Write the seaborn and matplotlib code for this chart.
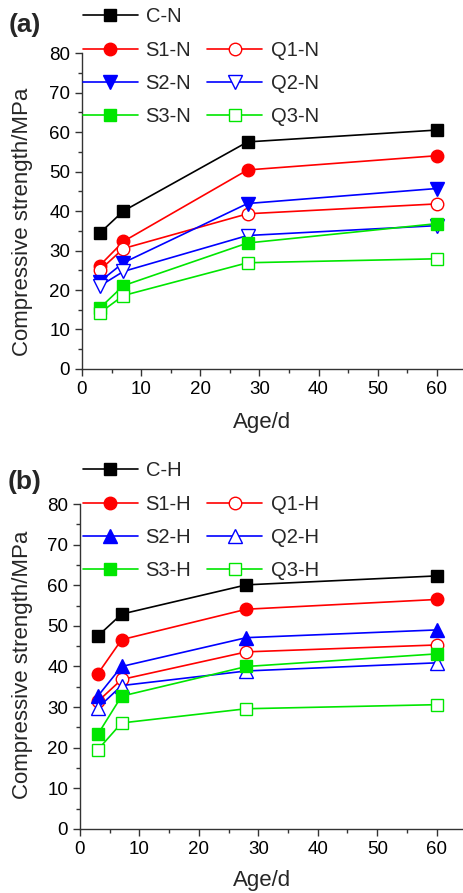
import matplotlib
matplotlib.use('Agg')
import matplotlib.pyplot as plt
from matplotlib.lines import Line2D
from matplotlib.ticker import MultipleLocator
import pandas as pd
import seaborn as sns

# curing age (days)
ages = [3, 7, 28, 60]

# panel (a) - N series, compressive strength in MPa
c_n = [34.4, 40.0, 57.5, 60.5]
s1_n = [26.2, 32.3, 50.4, 54.0]
q1_n = [25.0, 30.5, 39.3, 41.8]
s2_n = [22.1, 26.9, 41.9, 45.7]
q2_n = [21.0, 24.7, 33.8, 36.3]
s3_n = [15.4, 21.1, 31.9, 36.8]
q3_n = [14.2, 18.6, 26.9, 27.9]

# panel (b) - H series
c_h = [47.5, 52.9, 60.1, 62.3]
s1_h = [38.2, 46.6, 54.1, 56.5]
q1_h = [31.4, 36.8, 43.6, 45.3]
s2_h = [32.7, 40.0, 47.1, 49.0]
q2_h = [29.8, 35.3, 38.9, 40.9]
s3_h = [23.3, 32.7, 40.0, 43.1]
q3_h = [19.5, 26.1, 29.6, 30.6]

BLACK, RED, BLUE, GREEN = 'black', '#ff0000', '#0000ff', '#00e600'

sns.set_style('ticks')
plt.rcParams['font.family'] = ['Liberation Sans', 'DejaVu Sans']
plt.rcParams['xtick.direction'] = 'out'
plt.rcParams['ytick.direction'] = 'out'


def draw_panel(ax, series, tag, legend_top, tag_y, xlab_pos, ylab_pos):
    # series: list of (name, values, color, marker, filled, size)
    for name, vals, color, marker, filled, ms in series:
        df = pd.DataFrame({'age': ages, 'val': vals})
        sns.lineplot(data=df, x='age', y='val', ax=ax, color=color, marker=marker,
                     markersize=ms, linewidth=1.2, label=name,
                     markerfacecolor=color if filled else 'white',
                     markeredgecolor=color, markeredgewidth=1.0)
    ax.set_xlim(0, 64.6)
    ax.set_ylim(0, 80)
    ax.xaxis.set_major_locator(MultipleLocator(10))
    ax.xaxis.set_minor_locator(MultipleLocator(5))
    ax.yaxis.set_major_locator(MultipleLocator(10))
    ax.yaxis.set_minor_locator(MultipleLocator(5))
    ax.tick_params(which='major', length=5, width=1, labelsize=13.5, colors='#333333',
                   labelcolor='black')
    ax.tick_params(which='minor', length=3, width=1, colors='#333333')
    for sp in ['left', 'bottom']:
        ax.spines[sp].set_color('#333333')
        ax.spines[sp].set_linewidth(1.0)
    sns.despine(ax=ax)
    ax.set_xlabel('Age/d', fontsize=16)
    ax.set_ylabel('Compressive strength/MPa', fontsize=16)
    ax.xaxis.set_label_coords(*xlab_pos)
    ax.yaxis.set_label_coords(*ylab_pos)

    handles, labels = ax.get_legend_handles_labels()
    ax.get_legend().remove()
    blank = Line2D([], [], linestyle='none', marker=None)
    order = [0, 1, 3, 5]
    h = [handles[i] for i in order] + [blank] + [handles[i] for i in [2, 4, 6]]
    l = [labels[i] for i in order] + [''] + [labels[i] for i in [2, 4, 6]]
    fig = ax.figure
    fig.legend(h, l, loc='upper left', bbox_to_anchor=(0.178, legend_top),
               ncol=2, frameon=False, fontsize=14.5, handlelength=2.73,
               handletextpad=0.4, columnspacing=0.8, labelspacing=0.71,
               borderpad=0, borderaxespad=0)
    fig.text(0.054, tag_y, tag, fontsize=19, fontweight='bold', ha='center', va='center')


fig = plt.figure(figsize=(4.64, 8.93), dpi=100)
ax_a = fig.add_axes([0.1767, 0.5868, 1.0 - 0.1767, 0.9406 - 0.5868])
ax_b = fig.add_axes([0.1724, 0.0717, 1.0 - 0.1724, 0.4356 - 0.0717])

series_a = [
    ('C-N', c_n, BLACK, 's', True, 8),
    ('S1-N', s1_n, RED, 'o', True, 9),
    ('Q1-N', q1_n, RED, 'o', False, 9),
    ('S2-N', s2_n, BLUE, 'v', True, 9.5),
    ('Q2-N', q2_n, BLUE, 'v', False, 9.5),
    ('S3-N', s3_n, GREEN, 's', True, 8),
    ('Q3-N', q3_n, GREEN, 's', False, 8),
]
series_b = [
    ('C-H', c_h, BLACK, 's', True, 8),
    ('S1-H', s1_h, RED, 'o', True, 9),
    ('Q1-H', q1_h, RED, 'o', False, 9),
    ('S2-H', s2_h, BLUE, '^', True, 9.5),
    ('Q2-H', q2_h, BLUE, '^', False, 9.5),
    ('S3-H', s3_h, GREEN, 's', True, 8),
    ('Q3-H', q3_h, GREEN, 's', False, 8),
]

draw_panel(ax_a, series_a, '(a)', 0.9917, 1 - 25 / 893, (0.471, -0.136), (-0.128, 0.465))
draw_panel(ax_b, series_b, '(b)', 0.4833, 1 - 482 / 893, (0.474, -0.126), (-0.122, 0.505))

fig.savefig('out.png', dpi=100)
